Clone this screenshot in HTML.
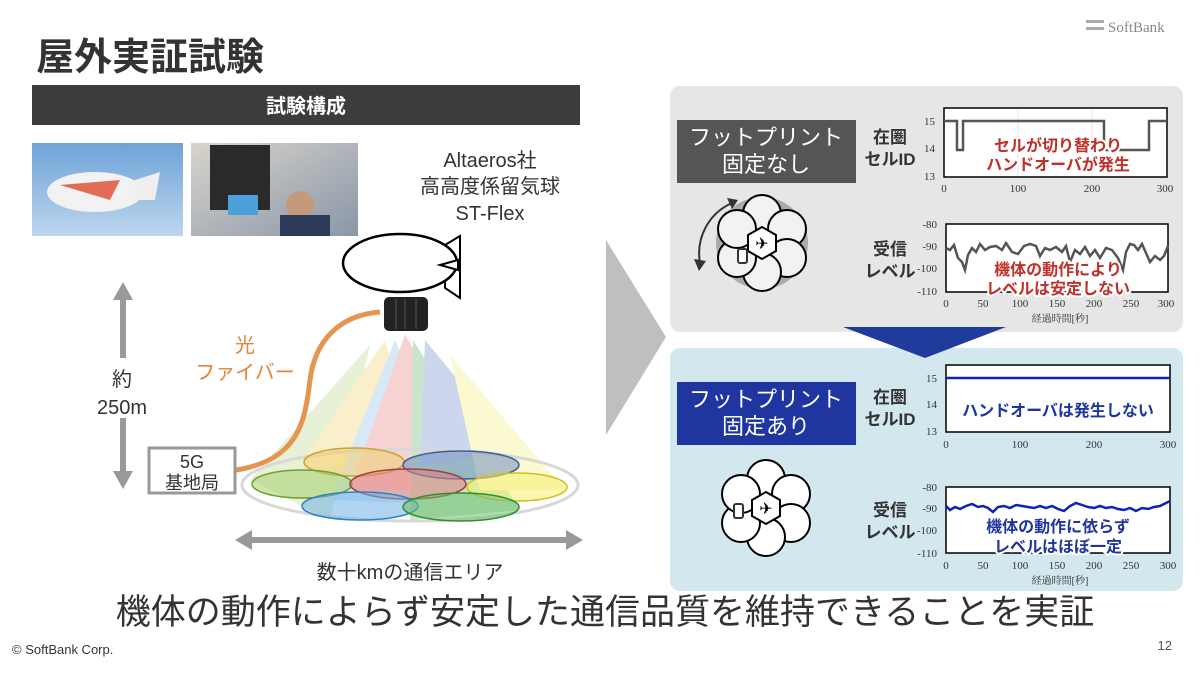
<!DOCTYPE html>
<html><head><meta charset="utf-8"><style>
html,body{margin:0;padding:0;background:#fff}
svg{display:block}
text{font-family:"Liberation Sans","Noto Sans CJK JP",sans-serif}
.s, .s text{font-family:"Liberation Serif","Noto Serif CJK SC",serif}
</style></head><body>
<svg width="1200" height="675" viewBox="0 0 1200 675" xmlns="http://www.w3.org/2000/svg">
<defs>
<linearGradient id="sky" x1="0" y1="0" x2="0" y2="1"><stop offset="0" stop-color="#6fa3d8"/><stop offset="1" stop-color="#bcd6ee"/></linearGradient>
<linearGradient id="ph2" x1="0" y1="0" x2="1" y2="1"><stop offset="0" stop-color="#d8d4cc"/><stop offset="1" stop-color="#8a96a8"/></linearGradient>
</defs>
<text x="36" y="70" font-size="38" font-weight="bold" fill="#333">屋外実証試験</text>
<rect x="1086" y="20" width="18" height="3" fill="#aaa"/><rect x="1086" y="27" width="18" height="3" fill="#aaa"/>
<text x="1108" y="32" font-size="15" fill="#888" class="s">SoftBank</text>
<rect x="32" y="85" width="548" height="40" fill="#3c3c3c"/>
<text x="306" y="113" font-size="20" font-weight="bold" fill="#fff" text-anchor="middle">試験構成</text>
<rect x="32" y="143" width="151" height="93" fill="url(#sky)"/>
<ellipse cx="95" cy="192" rx="48" ry="20" fill="#f2f2f2"/><path d="M60 185 L120 180 L110 200 Z" fill="#d94a2a" opacity=".8"/>
<path d="M135 180 L160 172 L155 200 L135 200 Z" fill="#eee"/>
<rect x="191" y="143" width="167" height="93" fill="url(#ph2)"/>
<rect x="210" y="145" width="60" height="65" fill="#2a2a2a"/><rect x="228" y="195" width="30" height="20" fill="#4aa0d8"/>
<circle cx="300" cy="205" r="14" fill="#c49a7a"/><rect x="280" y="215" width="50" height="21" fill="#2c3a5a"/>
<text x="490" y="167" font-size="20" fill="#333" text-anchor="middle">Altaeros社</text>
<text x="490" y="193" font-size="20" fill="#333" text-anchor="middle">高高度係留気球</text>
<text x="490" y="220" font-size="20" fill="#333" text-anchor="middle">ST-Flex</text>
<g opacity=".35">
<polygon points="370,345 250,480 330,520" fill="#b8d88a"/>
<polygon points="385,340 300,465 420,475" fill="#f0d36a"/>
<polygon points="395,340 330,500 470,505" fill="#8fc0e8"/>
<polygon points="405,335 350,490 500,490" fill="#e88080"/>
<polygon points="413,340 410,520 520,510" fill="#6ab86a"/>
<polygon points="425,340 420,465 520,455" fill="#7090d0"/>
<polygon points="450,355 480,490 565,490" fill="#f4f07a"/>
</g>
<ellipse cx="410" cy="485" rx="168" ry="36" fill="none" stroke="#d8d8d8" stroke-width="3"/>
<g stroke-width="1.5" fill-opacity=".55">
<ellipse cx="354" cy="462" rx="50" ry="14" fill="#f0d070" stroke="#d0a030"/>
<ellipse cx="461" cy="465" rx="58" ry="14" fill="#7090c0" stroke="#40609a"/>
<ellipse cx="302" cy="484" rx="50" ry="14" fill="#a8d070" stroke="#70a030"/>
<ellipse cx="408" cy="484" rx="58" ry="15" fill="#e08080" stroke="#a04040"/>
<ellipse cx="517" cy="487" rx="50" ry="14" fill="#f4f070" stroke="#d0c020"/>
<ellipse cx="360" cy="506" rx="58" ry="14" fill="#70b0e8" stroke="#3080c0"/>
<ellipse cx="461" cy="507" rx="58" ry="14" fill="#70c070" stroke="#309030"/>
</g>
<polygon points="445,245 460,236 460,298 445,288" fill="#fff" stroke="#000" stroke-width="2"/>
<ellipse cx="400" cy="263" rx="57" ry="29" fill="#fff" stroke="#000" stroke-width="2.5"/>
<polygon points="440,265 458,260 458,270" fill="#fff" stroke="#000" stroke-width="2"/>
<rect x="384" y="297" width="44" height="34" rx="5" fill="#222"/>
<g stroke="#555" stroke-width="1"><line x1="396" y1="299" x2="396" y2="329"/><line x1="405" y1="299" x2="405" y2="329"/><line x1="416" y1="299" x2="416" y2="329"/></g>
<path d="M236 470 C300 460 305 420 310 380 C315 340 340 315 380 312" fill="none" stroke="#e59550" stroke-width="5"/>
<text x="245" y="352" font-size="20" fill="#e0843a" text-anchor="middle">光</text>
<text x="245" y="379" font-size="20" fill="#e0843a" text-anchor="middle">ファイバー</text>
<line x1="123" y1="298" x2="123" y2="358" stroke="#999" stroke-width="6"/>
<line x1="123" y1="418" x2="123" y2="473" stroke="#999" stroke-width="6"/>
<polygon points="113,300 123,282 133,300" fill="#999"/><polygon points="113,471 123,489 133,471" fill="#999"/>
<text x="122" y="386" font-size="20" fill="#333" text-anchor="middle">約</text>
<text x="122" y="414" font-size="20" fill="#333" text-anchor="middle">250m</text>
<rect x="149" y="448" width="86" height="45" fill="#fff" stroke="#999" stroke-width="3"/>
<text x="192" y="468" font-size="18" fill="#333" text-anchor="middle">5G</text>
<text x="192" y="489" font-size="18" fill="#333" text-anchor="middle">基地局</text>
<line x1="250" y1="540" x2="568" y2="540" stroke="#999" stroke-width="6"/>
<polygon points="252,530 235,540 252,550" fill="#999"/><polygon points="566,530 583,540 566,550" fill="#999"/>
<text x="410" y="579" font-size="20" fill="#333" text-anchor="middle">数十kmの通信エリア</text>
<polygon points="606,240 666,337 606,435" fill="#bfbfbf"/>
<rect x="670" y="86" width="513" height="246" rx="10" fill="#e6e6e6"/>
<rect x="670" y="348" width="513" height="243" rx="10" fill="#d3e7ef"/>
<polygon points="843,327 1006,327 925,358" fill="#1f3c9c"/>
<rect x="677" y="120" width="179" height="63" fill="#555"/>
<text x="766" y="145" font-size="22" fill="#fff" text-anchor="middle">フットプリント</text>
<text x="766" y="172" font-size="22" fill="#fff" text-anchor="middle">固定なし</text>
<rect x="677" y="382" width="179" height="63" fill="#1f35a0"/>
<text x="766" y="407" font-size="22" fill="#fff" text-anchor="middle">フットプリント</text>
<text x="766" y="434" font-size="22" fill="#fff" text-anchor="middle">固定あり</text>
<g font-size="17" font-weight="bold" fill="#333" text-anchor="middle">
<text x="890" y="143">在圏</text><text x="890" y="165">セルID</text>
<text x="890" y="255">受信</text><text x="890" y="277">レベル</text>
<text x="890" y="403">在圏</text><text x="890" y="425">セルID</text>
<text x="890" y="516">受信</text><text x="890" y="538">レベル</text>
</g>
<g class="s" font-size="11" fill="#333">
<rect x="944" y="108" width="223" height="69" fill="#fff" stroke="#000" stroke-width="1.5"/>
<g stroke="#e4e4e4"><line x1="1018" y1="109" x2="1018" y2="176"/><line x1="1092" y1="109" x2="1092" y2="176"/></g>
<polyline points="944,121 957,121 957,150 963,150 963,121 1104,121 1104,150 1149,150 1149,121 1167,121" fill="none" stroke="#555" stroke-width="2.5"/>
<text x="935" y="125" text-anchor="end">15</text><text x="935" y="152" text-anchor="end">14</text><text x="935" y="180" text-anchor="end">13</text>
<text x="944" y="192" text-anchor="middle">0</text><text x="1018" y="192" text-anchor="middle">100</text><text x="1092" y="192" text-anchor="middle">200</text><text x="1165" y="192" text-anchor="middle">300</text>
<rect x="946" y="224" width="222" height="68" fill="#fff" stroke="#000" stroke-width="1.5"/>
<polyline points="946,248 950,250 954,245 958,258 962,262 965,270 968,255 972,248 976,252 980,244 985,250 990,247 996,246 1002,250 1006,243 1012,252 1018,254 1024,246 1030,244 1036,246 1040,256 1045,248 1050,250 1056,247 1062,252 1066,246 1070,262 1075,250 1080,254 1085,247 1090,256 1095,250 1100,258 1106,248 1112,250 1118,258 1123,270 1126,252 1130,244 1134,245 1138,250 1142,244 1146,253 1150,262 1155,256 1160,260 1164,256 1168,246" fill="none" stroke="#555" stroke-width="2.5"/>
<text x="937" y="228" text-anchor="end">-80</text><text x="937" y="250" text-anchor="end">-90</text><text x="937" y="272" text-anchor="end">-100</text><text x="937" y="295" text-anchor="end">-110</text>
<text x="946" y="307" text-anchor="middle">0</text><text x="983" y="307" text-anchor="middle">50</text><text x="1020" y="307" text-anchor="middle">100</text><text x="1057" y="307" text-anchor="middle">150</text><text x="1094" y="307" text-anchor="middle">200</text><text x="1131" y="307" text-anchor="middle">250</text><text x="1166" y="307" text-anchor="middle">300</text>
<text x="1060" y="322" text-anchor="middle" font-size="10">経過時間[秒]</text>
<rect x="946" y="365" width="224" height="67" fill="#fff" stroke="#000" stroke-width="1.5"/>
<line x1="946" y1="378" x2="1170" y2="378" stroke="#1020c0" stroke-width="2.5"/>
<text x="937" y="382" text-anchor="end">15</text><text x="937" y="408" text-anchor="end">14</text><text x="937" y="435" text-anchor="end">13</text>
<text x="946" y="448" text-anchor="middle">0</text><text x="1020" y="448" text-anchor="middle">100</text><text x="1094" y="448" text-anchor="middle">200</text><text x="1168" y="448" text-anchor="middle">300</text>
<rect x="946" y="487" width="224" height="66" fill="#fff" stroke="#000" stroke-width="1.5"/>
<polyline points="946,506 950,510 955,507 960,509 966,506 972,504 978,507 983,506 988,508 993,512 998,507 1004,506 1010,508 1016,505 1022,506 1028,507 1034,508 1040,506 1046,508 1052,506 1058,509 1064,511 1070,506 1076,503 1082,505 1088,507 1094,508 1100,506 1106,508 1112,507 1118,509 1124,510 1130,508 1136,511 1142,508 1148,509 1154,507 1160,506 1166,503 1170,501" fill="none" stroke="#1020c0" stroke-width="2.5"/>
<text x="937" y="491" text-anchor="end">-80</text><text x="937" y="512" text-anchor="end">-90</text><text x="937" y="534" text-anchor="end">-100</text><text x="937" y="557" text-anchor="end">-110</text>
<text x="946" y="569" text-anchor="middle">0</text><text x="983" y="569" text-anchor="middle">50</text><text x="1020" y="569" text-anchor="middle">100</text><text x="1057" y="569" text-anchor="middle">150</text><text x="1094" y="569" text-anchor="middle">200</text><text x="1131" y="569" text-anchor="middle">250</text><text x="1168" y="569" text-anchor="middle">300</text>
<text x="1060" y="584" text-anchor="middle" font-size="10">経過時間[秒]</text>
</g>
<g font-size="16" font-weight="bold" text-anchor="middle" stroke="#fff" stroke-width="4" paint-order="stroke">
<text x="1058" y="151" fill="#c0302a">セルが切り替わり</text>
<text x="1058" y="170" fill="#c0302a">ハンドオーバが発生</text>
<text x="1058" y="275" fill="#c0302a">機体の動作により</text>
<text x="1058" y="294" fill="#c0302a">レベルは安定しない</text>
<text x="1058" y="416" fill="#1f35a0">ハンドオーバは発生しない</text>
<text x="1058" y="532" fill="#1f35a0">機体の動作に依らず</text>
<text x="1058" y="552" fill="#1f35a0">レベルはほぼ一定</text>
</g>
<g transform="translate(762,243)">
<circle r="46" fill="#aaa"/>
<g fill="#f2f2f2" stroke="#000" stroke-width="2">
<circle cx="0" cy="-29" r="19"/><circle cx="25" cy="-14" r="19"/><circle cx="25" cy="15" r="19"/><circle cx="0" cy="29" r="19"/><circle cx="-25" cy="15" r="19"/><circle cx="-25" cy="-14" r="19"/>
<polygon points="-14,-8 0,-16 14,-8 14,8 0,16 -14,8" fill="#fff"/>
</g>
<text x="0" y="6" font-size="16" text-anchor="middle">✈</text>
<rect x="-24" y="6" width="9" height="14" rx="2" fill="#fff" stroke="#333" stroke-width="2"/>
<path d="M-62 20 A55 55 0 0 1 -30 -40" fill="none" stroke="#333" stroke-width="2"/>
<polygon points="-35,-45 -24,-43 -30,-34" fill="#333"/><polygon points="-68,16 -56,18 -63,28" fill="#333"/>
</g>
<g transform="translate(766,508)">
<g fill="#fff" stroke="#000" stroke-width="2">
<circle cx="0" cy="-29" r="19"/><circle cx="25" cy="-14" r="19"/><circle cx="25" cy="15" r="19"/><circle cx="0" cy="29" r="19"/><circle cx="-25" cy="15" r="19"/><circle cx="-25" cy="-14" r="19"/>
<polygon points="-14,-8 0,-16 14,-8 14,8 0,16 -14,8" fill="#fff"/>
</g>
<text x="0" y="6" font-size="16" text-anchor="middle">✈</text>
<rect x="-32" y="-4" width="9" height="14" rx="2" fill="#fff" stroke="#333" stroke-width="2"/>
</g>
<text x="605" y="624" font-size="35" fill="#333" text-anchor="middle">機体の動作によらず安定した通信品質を維持できることを実証</text>
<text x="12" y="654" font-size="13" fill="#333">© SoftBank Corp.</text>
<text x="1172" y="650" font-size="13" fill="#555" text-anchor="end">12</text>
</svg>
</body></html>
